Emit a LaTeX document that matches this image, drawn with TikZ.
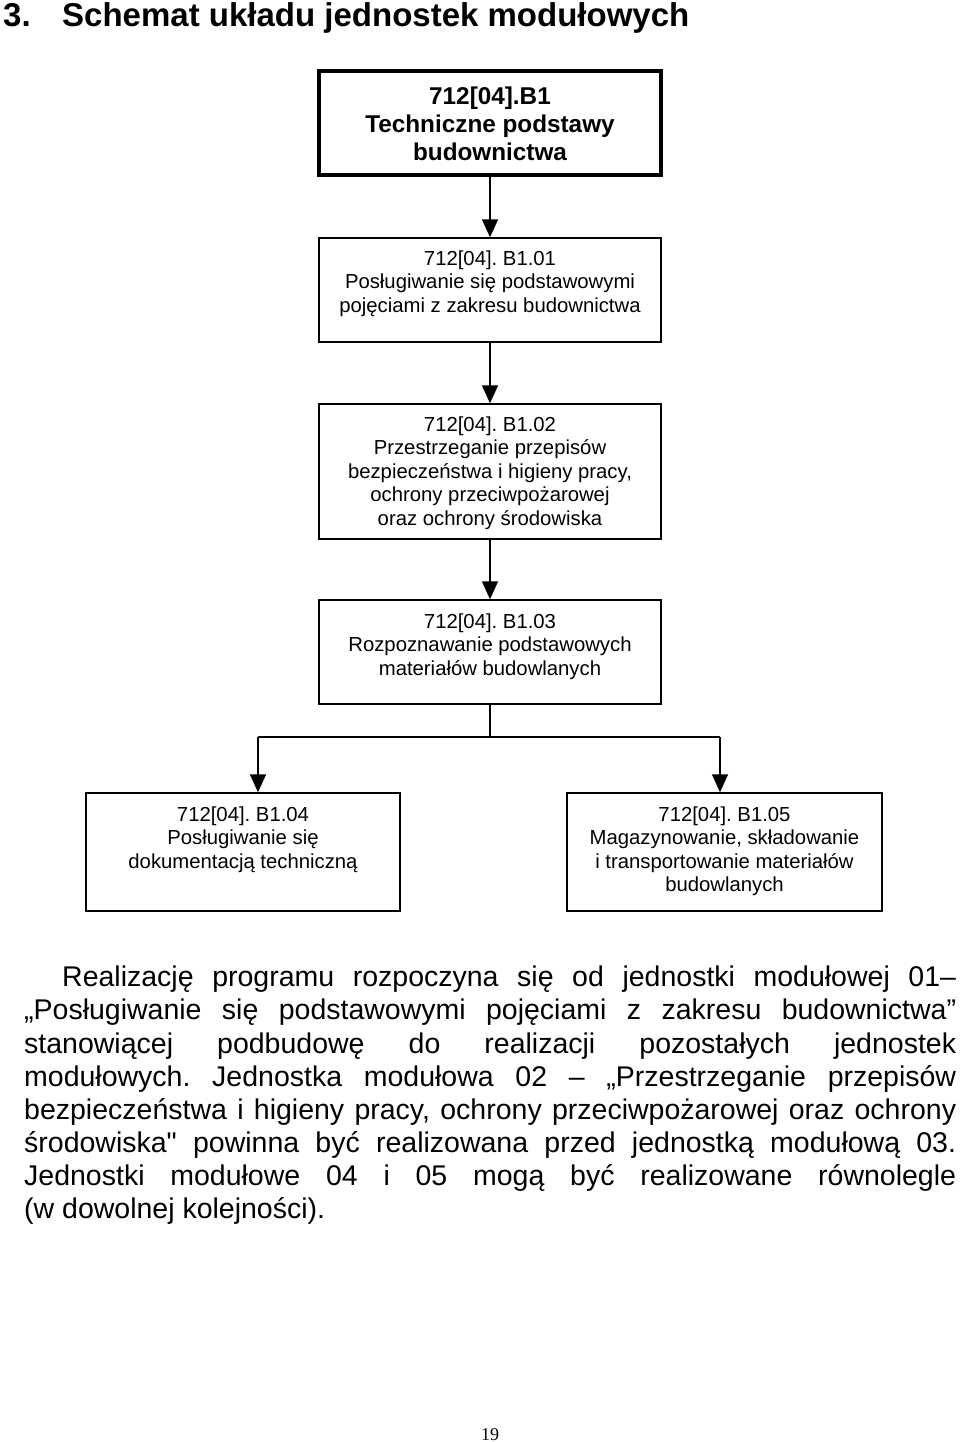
\documentclass[tikz,border=0pt]{standalone}
\usepackage{fontspec}
\setmainfont{Liberation Sans}
\newfontfamily\pagenumfont{Liberation Serif}
\newfontfamily\straightquotefont[Ligatures=TeXOff]{Liberation Sans}
\usetikzlibrary{arrows.meta}
\begin{document}
\frenchspacing
\begin{tikzpicture}[x=1pt,y=-1pt,
  modbox/.style={draw, line width=1.4pt, inner sep=0pt, minimum width=342pt},
  mainbox/.style={draw, line width=4pt, inner sep=0pt, minimum width=342pt, minimum height=104pt},
  boxtext/.style={anchor=north, inner sep=0pt, align=center, font=\fontsize{20.3}{23.5}\selectfont},
  maintext/.style={anchor=north, inner sep=0pt, align=center, font=\bfseries\fontsize{24.3}{28}\selectfont},
  flow/.style={line width=1.4pt, -{Triangle[width=16pt,length=18pt]}},
  plain/.style={line width=1.4pt},
  paratext/.style={anchor=north west, inner sep=0pt, align=left, font=\fontsize{28.5}{33.1}\selectfont},
  titletext/.style={anchor=base west, inner sep=0pt, font=\bfseries\fontsize{33}{40}\selectfont}
]
\useasboundingbox[fill=white] (0,0) rectangle (960,1442);

\node[titletext] (tnum) at (3,27) {3.};
\node[titletext] (title) at (62,27) {Schemat układu jednostek modułowych};

\node[mainbox] (b0) at (490,123) {};
\node[maintext] (t0) at (490,86.5) {712[04].B1\\Techniczne podstawy\\budownictwa};

\node[modbox, minimum height=104pt] (b1) at (490,290) {};
\node[boxtext] (t1) at (490,250.5) {712[04]. B1.01\\Posługiwanie się podstawowymi\\pojęciami z zakresu budownictwa};

\node[modbox, minimum height=135pt] (b2) at (490,471.5) {};
\node[boxtext] (t2) at (490,416.5) {712[04]. B1.02\\Przestrzeganie przepisów\\bezpieczeństwa i higieny pracy,\\ochrony przeciwpożarowej\\oraz ochrony środowiska};

\node[modbox, minimum height=104pt] (b3) at (490,652) {};
\node[boxtext] (t3) at (490,613.5) {712[04]. B1.03\\Rozpoznawanie podstawowych\\materiałów budowlanych};

\node[modbox, minimum width=314pt, minimum height=118pt] (b4) at (243,852) {};
\node[boxtext] (t4) at (243,806.5) {712[04]. B1.04\\Posługiwanie się\\dokumentacją techniczną};

\node[modbox, minimum width=315pt, minimum height=118pt] (b5) at (724.5,852) {};
\node[boxtext] (t5) at (724.5,806.5) {712[04]. B1.05\\Magazynowanie, składowanie\\i transportowanie materiałów\\budowlanych};

\draw[flow] (b0) -- (b1);
\draw[flow] (b1) -- (b2);
\draw[flow] (b2) -- (b3);
\coordinate (jn) at (490,737);
\coordinate (jl) at (258,737);
\coordinate (jr) at (720,737);
\draw[plain] (b3.south) -- (jn);
\draw[plain] (jl) -- (jr);
\draw[flow] (jl) -- (jl |- b4.north);
\draw[flow] (jr) -- (jr |- b5.north);

\node[paratext] (para) at (24,966) {%
\hspace*{38pt}\makebox[894pt][s]{Realizację programu rozpoczyna się od jednostki modułowej 01–}\\
\makebox[932pt][s]{„Posługiwanie się podstawowymi pojęciami z zakresu budownictwa”}\\
\makebox[932pt][s]{stanowiącej podbudowę do realizacji pozostałych jednostek}\\
\makebox[932pt][s]{modułowych. Jednostka modułowa 02 – „Przestrzeganie przepisów}\\
\makebox[932pt][s]{bezpieczeństwa i higieny pracy, ochrony przeciwpożarowej oraz ochrony}\\
\makebox[932pt][s]{środowiska{\straightquotefont"} powinna być realizowana przed jednostką modułową 03.}\\
\makebox[932pt][s]{Jednostki modułowe 04 i 05 mogą być realizowane równolegle}\\
(w dowolnej kolejności).};

\node[anchor=base, inner sep=0pt, font=\pagenumfont\fontsize{18}{20}\selectfont] (pg) at (490,1440) {19};
\end{tikzpicture}
\end{document}
